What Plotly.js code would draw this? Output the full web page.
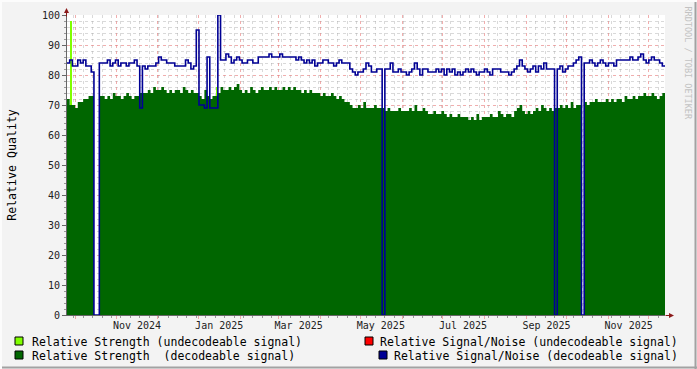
<!DOCTYPE html>
<html>
<head>
<meta charset="utf-8">
<script src="https://cdn.plot.ly/plotly-3.0.1.min.js"></script>
<style>html,body{margin:0;padding:0;background:#F3F3F3;}</style>
</head>
<body>
<div id="chart" style="width:697px;height:369px;"></div>
<script>
// ---- data (one sample every 2 days starting at startDate) ----
const startDate = '2024-09-25';
const stepDays = 2;
const strengthDecodeable = [
  72,70,70,69,71,71,72,72,73,73,
  0,0,73,73,72,73,72,74,73,73,
  72,73,74,73,72,73,73,74,74,74,
  75,74,76,75,75,76,75,74,75,74,
  75,75,74,76,75,74,75,74,74,73,
  72,75,73,72,73,73,74,76,75,75,
  76,75,76,77,75,74,75,74,76,75,
  74,75,76,75,75,76,75,76,75,75,
  76,75,76,75,76,75,75,74,75,74,
  75,74,74,74,73,74,73,73,74,73,
  72,73,72,71,71,70,69,69,70,69,
  71,69,69,69,70,69,69,69,68,69,
  68,68,68,69,68,68,68,69,68,70,
  68,68,69,68,67,67,68,67,67,68,
  67,66,67,66,66,67,66,66,66,65,
  66,65,67,65,66,66,66,67,66,66,
  68,67,66,67,67,66,68,69,70,68,
  67,68,67,68,69,68,70,69,68,69,
  68,69,69,70,69,70,69,71,69,70,
  70,0,71,70,71,71,72,71,71,71,
  72,71,72,71,72,72,71,73,72,72,
  73,72,73,73,74,73,73,74,73,72,73,74
];
const snrDecodeable = [
  84,85,83,83,85,84,85,83,83,81,
  0,0,84,84,84,85,83,84,85,83,
  84,84,83,84,84,85,83,69,83,82,
  83,83,83,84,86,85,85,84,84,84,
  83,83,83,83,85,84,82,83,95,70,
  70,69,86,69,69,69,100,85,85,87,
  86,84,85,86,85,84,84,85,85,84,
  84,86,86,86,86,87,86,86,86,87,
  86,86,86,86,86,85,86,85,84,85,
  84,85,83,84,84,85,85,84,84,83,
  84,85,84,84,84,82,81,80,81,81,
  82,84,83,81,81,82,82,0,82,82,
  84,81,81,82,81,81,80,81,82,84,
  82,80,82,82,81,81,81,82,81,82,
  80,82,81,82,80,81,80,81,82,81,
  82,81,80,81,81,82,81,80,82,82,
  82,81,81,81,80,81,82,83,85,83,
  82,81,82,83,81,83,82,84,82,82,
  82,0,82,83,81,82,83,83,84,85,
  86,0,84,84,85,84,83,84,85,84,
  83,84,84,83,85,85,85,85,85,86,
  85,85,86,87,85,84,85,86,85,85,84,83
];
const strengthUndecodeableDates = ['2024-09-28', '2025-01-14'];
const strengthUndecodeableValues = [98, 76];
const snrUndecodeableDates = [];
const snrUndecodeableValues = [];
const legendLabels = [
  'Relative Strength (undecodeable signal)',
  'Relative Strength \u00A0(decodeable signal)',
  'Relative Signal/Noise (undecodeable signal)',
  'Relative Signal/Noise (decodeable signal)'
];
const colors = {
  strengthUndec: '#80FF00',
  strengthDec: '#006600',
  snrUndec: '#FF0000',
  snrDec: '#000094'
};

// ---- build time axis from start + step ----
const DAY = 86400000;
const t0 = Date.parse(startDate + 'T00:00:00Z');
function iso(ms){ return new Date(ms).toISOString().slice(0,19).replace('T',' '); }
const dates = strengthDecodeable.map((_, i) => iso(t0 + i * stepDays * DAY));
const endMs = t0 + strengthDecodeable.length * stepDays * DAY;
// close the last step at the end of its interval
const xs = dates.concat([iso(endMs)]);
const ysStrength = strengthDecodeable.concat([strengthDecodeable[strengthDecodeable.length - 1]]);
const ysSnr = snrDecodeable.concat([snrDecodeable[snrDecodeable.length - 1]]);
const xRange = [iso(t0), iso(endMs)];

const mono = 'DejaVu Sans Mono, monospace';

const traces = [
  {
    type: 'bar', x: strengthUndecodeableDates, y: strengthUndecodeableValues,
    width: DAY, marker: {color: colors.strengthUndec, line: {width: 0}},
    name: legendLabels[0], showlegend: false, xaxis: 'x', yaxis: 'y'
  },
  {
    type: 'scatter', mode: 'lines', x: xs, y: ysStrength,
    line: {shape: 'hv', width: 0, color: colors.strengthDec},
    fill: 'tozeroy', fillcolor: colors.strengthDec,
    name: legendLabels[1], showlegend: false, xaxis: 'x', yaxis: 'y'
  },
  {
    type: 'scatter', mode: 'lines', x: snrUndecodeableDates, y: snrUndecodeableValues,
    line: {shape: 'hv', width: 1.5, color: colors.snrUndec},
    name: legendLabels[2], showlegend: false, xaxis: 'x2', yaxis: 'y'
  },
  {
    type: 'scatter', mode: 'lines', x: xs, y: ysSnr,
    line: {shape: 'hv', width: 1.6, color: colors.snrDec},
    name: legendLabels[3], showlegend: false, xaxis: 'x2', yaxis: 'y'
  }
];

// pixel -> paper helpers for decorations
const L = 67, R = 665, T = 15, B = 315;
const px = x => (x - L) / (R - L);
const py = y => (B - y) / (B - T);

const majorGrid = 'rgba(230,120,120,0.6)';
const minorGrid = 'rgba(160,160,160,0.4)';

const shapes = [];
const annotations = [];
// legend squares + texts
const legendItems = [
  {sq: [15, 337], tx: 30, ty: 341.5, anchor: 'left', color: colors.strengthUndec, label: legendLabels[0]},
  {sq: [15, 351], tx: 30, ty: 355.5, anchor: 'left', color: colors.strengthDec, label: legendLabels[1]},
  {sq: [365, 337], tx: 680, ty: 341.5, anchor: 'right', color: colors.snrUndec, label: legendLabels[2]},
  {sq: [379, 351], tx: 680, ty: 355.5, anchor: 'right', color: colors.snrDec, label: legendLabels[3]}
];
legendItems.forEach(it => {
  shapes.push({type: 'rect', xref: 'paper', yref: 'paper',
    x0: px(it.sq[0]), x1: px(it.sq[0] + 8), y0: py(it.sq[1] + 8), y1: py(it.sq[1]),
    fillcolor: it.color, line: {color: '#000', width: 1}});
  annotations.push({xref: 'paper', yref: 'paper', x: px(it.tx), y: py(it.ty),
    xanchor: it.anchor, yanchor: 'middle', showarrow: false, text: it.label,
    font: {family: mono, size: 11.5, color: '#000'}});
});
// frame
shapes.push({type: 'line', xref: 'paper', yref: 'paper', x0: px(0), x1: px(697), y0: py(367.5), y1: py(367.5), line: {color: '#A2A2A2', width: 2}});
shapes.push({type: 'line', xref: 'paper', yref: 'paper', x0: px(695.5), x1: px(695.5), y0: py(0), y1: py(369), line: {color: '#A2A2A2', width: 2}});
shapes.push({type: 'line', xref: 'paper', yref: 'paper', x0: px(0), x1: px(697), y0: py(1), y1: py(1), line: {color: '#FCFCFC', width: 2}});
shapes.push({type: 'line', xref: 'paper', yref: 'paper', x0: px(1), x1: px(1), y0: py(0), y1: py(369), line: {color: '#FCFCFC', width: 2}});

// axis arrows
annotations.push({xref: 'paper', yref: 'paper', x: px(66.5), y: py(8), ax: 0, ay: 10, showarrow: true,
  arrowhead: 2, arrowsize: 1, arrowwidth: 1, arrowcolor: '#8B1A1A', text: ''});
annotations.push({xref: 'paper', yref: 'paper', x: px(674), y: py(315.5), ax: -10, ay: 0, showarrow: true,
  arrowhead: 2, arrowsize: 1, arrowwidth: 1, arrowcolor: '#8B1A1A', text: ''});
// watermark
annotations.push({xref: 'paper', yref: 'paper', x: px(688), y: py(4), xanchor: 'center', yanchor: 'top',
  textangle: 90, showarrow: false,
  text: 'RRDTOOL / TOBI OETIKER', font: {family: mono, size: 8.5, color: '#C2C2C2'}});

const layout = {
  width: 697, height: 369,
  margin: {l: L, r: 697 - R, t: T, b: 369 - B, pad: 0},
  paper_bgcolor: '#F3F3F3', plot_bgcolor: '#FFFFFF',
  showlegend: false,
  bargap: 0,
  xaxis: {
    type: 'date', range: xRange, tick0: '2024-10-01', dtick: 'M1',
    showgrid: true, gridcolor: majorGrid, griddash: 'dot', gridwidth: 1,
    ticks: 'outside', ticklen: 3, tickcolor: majorGrid, showticklabels: false,
    showline: true, linecolor: '#666', linewidth: 1, zeroline: false,
    minor: {dtick: 7 * DAY, tick0: '2024-09-30', showgrid: true, gridcolor: minorGrid, griddash: 'dot',
      ticks: 'outside', ticklen: 2, tickcolor: '#999'}
  },
  xaxis2: {
    type: 'date', range: xRange, overlaying: 'x', anchor: 'y', side: 'bottom',
    tick0: '2024-11-16', dtick: 'M2', tickformat: '%b %Y',
    showgrid: false, ticks: '', showline: false, zeroline: false,
    ticklabelstandoff: 3,
    tickfont: {family: mono, size: 10, color: '#222'}
  },
  yaxis: {
    range: [0, 100], tick0: 0, dtick: 10,
    showgrid: true, gridcolor: majorGrid, griddash: 'dot', gridwidth: 1,
    ticks: 'outside', ticklen: 4, tickcolor: '#666',
    showline: true, linecolor: '#666', linewidth: 1, zeroline: false,
    tickfont: {family: mono, size: 10, color: '#222'},
    title: {text: 'Relative Quality', font: {family: mono, size: 11.6, color: '#000'}, standoff: 22},
    minor: {dtick: 2, showgrid: true, gridcolor: minorGrid, griddash: 'dot',
      ticks: 'outside', ticklen: 2, tickcolor: '#999'}
  },
  shapes: shapes,
  annotations: annotations
};

Plotly.newPlot('chart', traces, layout, {staticPlot: true, displayModeBar: false});
</script>
</body>
</html>
